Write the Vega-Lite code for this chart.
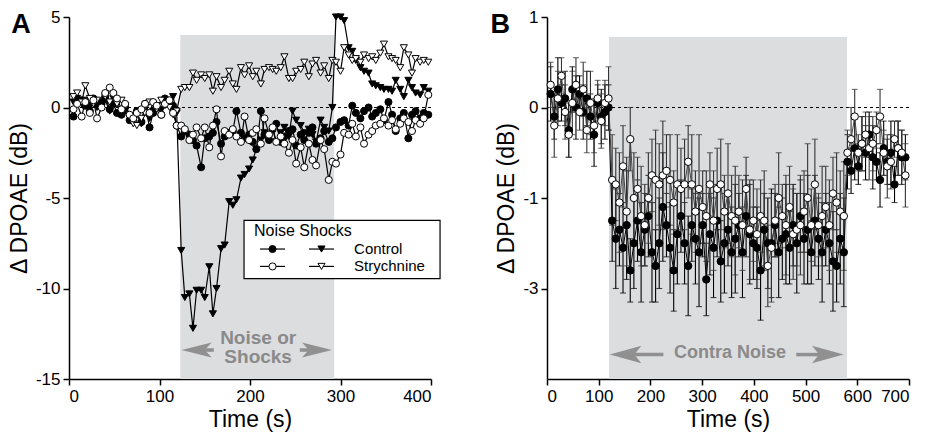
{
"$schema":"https://vega.github.io/schema/vega-lite/v6.json",
"background":"white",
"padding":{"left":8,"top":8,"right":0,"bottom":2},
"config":{"view":{"stroke":null},"font":"Liberation Sans",
"axis":{"domainColor":"#000","domainWidth":1.5,"tickColor":"#000","tickWidth":1.5,"tickSize":6,"labelFont":"Liberation Sans","labelFontSize":17,"labelColor":"#000","labelPadding":3,"titleFont":"Liberation Sans","titleFontSize":23,"titleFontWeight":"normal","titleColor":"#000","grid":false,"titlePadding":4}},
"datasets":{
"a":[
{"t":5,"g":"tc","v":0.3},{"t":9,"g":"tc","v":0.5},{"t":14,"g":"tc","v":0.2},{"t":18,"g":"tc","v":0.4},{"t":23,"g":"tc","v":0.1},{"t":27,"g":"tc","v":0.3},{"t":31,"g":"tc","v":0.0},{"t":36,"g":"tc","v":0.2},{"t":40,"g":"tc","v":0.4},{"t":45,"g":"tc","v":-0.2},
{"t":49,"g":"tc","v":0.5},{"t":53,"g":"tc","v":0.2},{"t":58,"g":"tc","v":-0.3},{"t":62,"g":"tc","v":-0.2},{"t":67,"g":"tc","v":-0.6},{"t":71,"g":"tc","v":-0.8},{"t":75,"g":"tc","v":-0.4},{"t":80,"g":"tc","v":-0.9},{"t":84,"g":"tc","v":-0.3},{"t":89,"g":"tc","v":-0.6},
{"t":93,"g":"tc","v":-0.2},{"t":97,"g":"tc","v":0.1},{"t":102,"g":"tc","v":-0.1},{"t":106,"g":"tc","v":0.4},{"t":111,"g":"tc","v":0.3},{"t":115,"g":"tc","v":0.6},{"t":119,"g":"tc","v":-0.3},{"t":124,"g":"tc","v":-7.9},{"t":128,"g":"tc","v":-10.5},{"t":133,"g":"tc","v":-10.3},
{"t":137,"g":"tc","v":-12.2},{"t":141,"g":"tc","v":-10.1},{"t":146,"g":"tc","v":-10.1},{"t":150,"g":"tc","v":-10.5},{"t":155,"g":"tc","v":-8.8},{"t":159,"g":"tc","v":-11.4},{"t":163,"g":"tc","v":-10.0},{"t":168,"g":"tc","v":-7.8},{"t":172,"g":"tc","v":-7.6},{"t":177,"g":"tc","v":-5.2},
{"t":181,"g":"tc","v":-5.4},{"t":185,"g":"tc","v":-5.1},{"t":190,"g":"tc","v":-3.9},{"t":194,"g":"tc","v":-3.7},{"t":199,"g":"tc","v":-3.4},{"t":203,"g":"tc","v":-2.9},{"t":207,"g":"tc","v":-2.3},{"t":212,"g":"tc","v":-1.8},{"t":216,"g":"tc","v":-1.4},{"t":221,"g":"tc","v":-1.7},
{"t":225,"g":"tc","v":-1.2},{"t":229,"g":"tc","v":-1.9},{"t":234,"g":"tc","v":-1.4},{"t":238,"g":"tc","v":-1.1},{"t":243,"g":"tc","v":-1.6},{"t":247,"g":"tc","v":-0.2},{"t":251,"g":"tc","v":-0.7},{"t":256,"g":"tc","v":-1.0},{"t":260,"g":"tc","v":-1.4},{"t":265,"g":"tc","v":-1.2},
{"t":269,"g":"tc","v":-1.5},{"t":273,"g":"tc","v":-1.9},{"t":278,"g":"tc","v":-0.7},{"t":282,"g":"tc","v":-1.1},{"t":287,"g":"tc","v":-1.3},{"t":291,"g":"tc","v":0.0},{"t":295,"g":"tc","v":5.0},{"t":300,"g":"tc","v":5.0},{"t":304,"g":"tc","v":4.8},{"t":309,"g":"tc","v":3.3},
{"t":313,"g":"tc","v":3.1},{"t":317,"g":"tc","v":2.6},{"t":322,"g":"tc","v":2.2},{"t":326,"g":"tc","v":2.0},{"t":331,"g":"tc","v":1.9},{"t":335,"g":"tc","v":1.3},{"t":339,"g":"tc","v":1.2},{"t":344,"g":"tc","v":1.1},{"t":348,"g":"tc","v":1.0},{"t":353,"g":"tc","v":1.0},
{"t":357,"g":"tc","v":0.9},{"t":361,"g":"tc","v":1.5},{"t":366,"g":"tc","v":1.0},{"t":370,"g":"tc","v":0.6},{"t":375,"g":"tc","v":1.5},{"t":379,"g":"tc","v":1.1},{"t":383,"g":"tc","v":0.8},{"t":388,"g":"tc","v":0.7},{"t":392,"g":"tc","v":1.1},{"t":397,"g":"tc","v":0.9},
{"t":5,"g":"cc","v":-0.5},{"t":9,"g":"cc","v":0.3},{"t":14,"g":"cc","v":0.4},{"t":18,"g":"cc","v":0.1},{"t":23,"g":"cc","v":-0.2},{"t":27,"g":"cc","v":0.5},{"t":31,"g":"cc","v":0.2},{"t":36,"g":"cc","v":0.3},{"t":40,"g":"cc","v":0.6},{"t":45,"g":"cc","v":-0.1},
{"t":49,"g":"cc","v":0.2},{"t":53,"g":"cc","v":-0.3},{"t":58,"g":"cc","v":-0.4},{"t":62,"g":"cc","v":0.1},{"t":67,"g":"cc","v":-0.7},{"t":71,"g":"cc","v":-0.5},{"t":75,"g":"cc","v":-0.2},{"t":80,"g":"cc","v":-0.8},{"t":84,"g":"cc","v":0.2},{"t":89,"g":"cc","v":-1.1},
{"t":93,"g":"cc","v":-0.3},{"t":97,"g":"cc","v":0.0},{"t":102,"g":"cc","v":-0.4},{"t":106,"g":"cc","v":0.5},{"t":111,"g":"cc","v":0.2},{"t":115,"g":"cc","v":0.1},{"t":119,"g":"cc","v":-1.0},{"t":124,"g":"cc","v":-1.6},{"t":128,"g":"cc","v":-1.3},{"t":133,"g":"cc","v":-1.5},
{"t":137,"g":"cc","v":-1.8},{"t":141,"g":"cc","v":-2.1},{"t":146,"g":"cc","v":-3.3},{"t":150,"g":"cc","v":-1.7},{"t":155,"g":"cc","v":-1.6},{"t":159,"g":"cc","v":-1.4},{"t":163,"g":"cc","v":-0.8},{"t":168,"g":"cc","v":-2.0},{"t":172,"g":"cc","v":-1.6},{"t":177,"g":"cc","v":-1.4},
{"t":181,"g":"cc","v":-1.3},{"t":185,"g":"cc","v":-0.2},{"t":190,"g":"cc","v":-1.4},{"t":194,"g":"cc","v":-1.7},{"t":199,"g":"cc","v":-1.5},{"t":203,"g":"cc","v":-1.9},{"t":207,"g":"cc","v":-2.3},{"t":212,"g":"cc","v":-0.2},{"t":216,"g":"cc","v":-1.5},{"t":221,"g":"cc","v":-1.8},
{"t":225,"g":"cc","v":-1.2},{"t":229,"g":"cc","v":-0.9},{"t":234,"g":"cc","v":-1.9},{"t":238,"g":"cc","v":-1.6},{"t":243,"g":"cc","v":-1.3},{"t":247,"g":"cc","v":-1.2},{"t":251,"g":"cc","v":-2.1},{"t":256,"g":"cc","v":-1.5},{"t":260,"g":"cc","v":-1.8},{"t":265,"g":"cc","v":-1.4},
{"t":269,"g":"cc","v":-1.1},{"t":273,"g":"cc","v":-2.0},{"t":278,"g":"cc","v":-1.7},{"t":282,"g":"cc","v":-1.3},{"t":287,"g":"cc","v":-1.9},{"t":291,"g":"cc","v":-1.7},{"t":295,"g":"cc","v":-1.1},{"t":300,"g":"cc","v":-0.8},{"t":304,"g":"cc","v":-0.7},{"t":309,"g":"cc","v":-1.0},
{"t":313,"g":"cc","v":0.1},{"t":317,"g":"cc","v":-0.3},{"t":322,"g":"cc","v":-0.6},{"t":326,"g":"cc","v":-0.2},{"t":331,"g":"cc","v":0.0},{"t":335,"g":"cc","v":-0.5},{"t":339,"g":"cc","v":-0.3},{"t":344,"g":"cc","v":-0.1},{"t":348,"g":"cc","v":-0.7},{"t":353,"g":"cc","v":0.3},
{"t":357,"g":"cc","v":-0.4},{"t":361,"g":"cc","v":-1.3},{"t":366,"g":"cc","v":-0.6},{"t":370,"g":"cc","v":-0.3},{"t":375,"g":"cc","v":-1.7},{"t":379,"g":"cc","v":-0.4},{"t":383,"g":"cc","v":-0.2},{"t":388,"g":"cc","v":-0.6},{"t":392,"g":"cc","v":-0.3},{"t":397,"g":"cc","v":-0.4},
{"t":5,"g":"ts","v":0.6},{"t":9,"g":"ts","v":0.8},{"t":14,"g":"ts","v":0.3},{"t":18,"g":"ts","v":1.2},{"t":23,"g":"ts","v":0.5},{"t":27,"g":"ts","v":0.2},{"t":31,"g":"ts","v":0.4},{"t":36,"g":"ts","v":0.0},{"t":40,"g":"ts","v":0.6},{"t":45,"g":"ts","v":0.3},
{"t":49,"g":"ts","v":0.7},{"t":53,"g":"ts","v":0.2},{"t":58,"g":"ts","v":0.4},{"t":62,"g":"ts","v":0.1},{"t":67,"g":"ts","v":-0.5},{"t":71,"g":"ts","v":-0.9},{"t":75,"g":"ts","v":-1.0},{"t":80,"g":"ts","v":-0.6},{"t":84,"g":"ts","v":-0.3},{"t":89,"g":"ts","v":0.3},
{"t":93,"g":"ts","v":0.2},{"t":97,"g":"ts","v":-0.1},{"t":102,"g":"ts","v":0.4},{"t":106,"g":"ts","v":0.1},{"t":111,"g":"ts","v":0.0},{"t":115,"g":"ts","v":-0.4},{"t":119,"g":"ts","v":-0.2},{"t":124,"g":"ts","v":1.0},{"t":128,"g":"ts","v":1.1},{"t":133,"g":"ts","v":1.1},
{"t":137,"g":"ts","v":1.9},{"t":141,"g":"ts","v":1.5},{"t":146,"g":"ts","v":1.8},{"t":150,"g":"ts","v":1.6},{"t":155,"g":"ts","v":1.8},{"t":159,"g":"ts","v":0.9},{"t":163,"g":"ts","v":1.7},{"t":168,"g":"ts","v":1.1},{"t":172,"g":"ts","v":1.5},{"t":177,"g":"ts","v":2.0},
{"t":181,"g":"ts","v":1.3},{"t":185,"g":"ts","v":1.0},{"t":190,"g":"ts","v":2.2},{"t":194,"g":"ts","v":1.8},{"t":199,"g":"ts","v":2.3},{"t":203,"g":"ts","v":1.7},{"t":207,"g":"ts","v":2.0},{"t":212,"g":"ts","v":1.3},{"t":216,"g":"ts","v":2.1},{"t":221,"g":"ts","v":2.2},
{"t":225,"g":"ts","v":2.1},{"t":229,"g":"ts","v":2.0},{"t":234,"g":"ts","v":2.2},{"t":238,"g":"ts","v":2.8},{"t":243,"g":"ts","v":1.6},{"t":247,"g":"ts","v":1.6},{"t":251,"g":"ts","v":2.0},{"t":256,"g":"ts","v":2.1},{"t":260,"g":"ts","v":2.5},{"t":265,"g":"ts","v":1.7},
{"t":269,"g":"ts","v":2.4},{"t":273,"g":"ts","v":2.6},{"t":278,"g":"ts","v":1.9},{"t":282,"g":"ts","v":2.3},{"t":287,"g":"ts","v":1.6},{"t":291,"g":"ts","v":2.6},{"t":295,"g":"ts","v":2.5},{"t":300,"g":"ts","v":2.0},{"t":304,"g":"ts","v":3.3},{"t":309,"g":"ts","v":2.9},
{"t":313,"g":"ts","v":2.6},{"t":317,"g":"ts","v":2.7},{"t":322,"g":"ts","v":2.5},{"t":326,"g":"ts","v":2.9},{"t":331,"g":"ts","v":2.7},{"t":335,"g":"ts","v":2.8},{"t":339,"g":"ts","v":2.6},{"t":344,"g":"ts","v":3.0},{"t":348,"g":"ts","v":3.5},{"t":353,"g":"ts","v":2.8},
{"t":357,"g":"ts","v":2.7},{"t":361,"g":"ts","v":2.6},{"t":366,"g":"ts","v":2.2},{"t":370,"g":"ts","v":3.3},{"t":375,"g":"ts","v":2.9},{"t":379,"g":"ts","v":1.9},{"t":383,"g":"ts","v":2.7},{"t":388,"g":"ts","v":2.5},{"t":392,"g":"ts","v":2.6},{"t":397,"g":"ts","v":2.5},
{"t":5,"g":"cs","v":-0.1},{"t":9,"g":"cs","v":0.2},{"t":14,"g":"cs","v":-0.5},{"t":18,"g":"cs","v":0.3},{"t":23,"g":"cs","v":-0.3},{"t":27,"g":"cs","v":0.4},{"t":31,"g":"cs","v":-0.6},{"t":36,"g":"cs","v":0.0},{"t":40,"g":"cs","v":0.8},{"t":45,"g":"cs","v":1.1},
{"t":49,"g":"cs","v":0.8},{"t":53,"g":"cs","v":0.5},{"t":58,"g":"cs","v":-0.1},{"t":62,"g":"cs","v":0.2},{"t":67,"g":"cs","v":-0.4},{"t":71,"g":"cs","v":-0.6},{"t":75,"g":"cs","v":-0.3},{"t":80,"g":"cs","v":-0.1},{"t":84,"g":"cs","v":0.2},{"t":89,"g":"cs","v":-0.3},
{"t":93,"g":"cs","v":0.3},{"t":97,"g":"cs","v":0.1},{"t":102,"g":"cs","v":-0.4},{"t":106,"g":"cs","v":0.2},{"t":111,"g":"cs","v":0.4},{"t":115,"g":"cs","v":-0.3},{"t":119,"g":"cs","v":-1.0},{"t":124,"g":"cs","v":-1.0},{"t":128,"g":"cs","v":-1.2},{"t":133,"g":"cs","v":-1.8},
{"t":137,"g":"cs","v":-1.5},{"t":141,"g":"cs","v":-1.1},{"t":146,"g":"cs","v":-1.7},{"t":150,"g":"cs","v":-1.1},{"t":155,"g":"cs","v":-2.2},{"t":159,"g":"cs","v":-1.0},{"t":163,"g":"cs","v":-0.1},{"t":168,"g":"cs","v":-2.7},{"t":172,"g":"cs","v":-1.3},{"t":177,"g":"cs","v":-1.5},
{"t":181,"g":"cs","v":-1.2},{"t":185,"g":"cs","v":-1.6},{"t":190,"g":"cs","v":-1.9},{"t":194,"g":"cs","v":-0.5},{"t":199,"g":"cs","v":-1.8},{"t":203,"g":"cs","v":-1.4},{"t":207,"g":"cs","v":-1.2},{"t":212,"g":"cs","v":-2.0},{"t":216,"g":"cs","v":-0.6},{"t":221,"g":"cs","v":-1.5},
{"t":225,"g":"cs","v":-1.1},{"t":229,"g":"cs","v":-1.9},{"t":234,"g":"cs","v":-1.6},{"t":238,"g":"cs","v":-2.0},{"t":243,"g":"cs","v":-2.5},{"t":247,"g":"cs","v":-1.8},{"t":251,"g":"cs","v":-3.1},{"t":256,"g":"cs","v":-2.2},{"t":260,"g":"cs","v":-3.3},{"t":265,"g":"cs","v":-2.0},
{"t":269,"g":"cs","v":-2.9},{"t":273,"g":"cs","v":-3.2},{"t":278,"g":"cs","v":-1.8},{"t":282,"g":"cs","v":-2.3},{"t":287,"g":"cs","v":-4.0},{"t":291,"g":"cs","v":-3.0},{"t":295,"g":"cs","v":-3.1},{"t":300,"g":"cs","v":-2.6},{"t":304,"g":"cs","v":-1.4},{"t":309,"g":"cs","v":-1.5},
{"t":313,"g":"cs","v":-0.9},{"t":317,"g":"cs","v":-1.6},{"t":322,"g":"cs","v":-1.1},{"t":326,"g":"cs","v":-2.0},{"t":331,"g":"cs","v":-1.5},{"t":335,"g":"cs","v":-1.3},{"t":339,"g":"cs","v":-1.0},{"t":344,"g":"cs","v":-0.9},{"t":348,"g":"cs","v":-0.6},{"t":353,"g":"cs","v":-1.0},
{"t":357,"g":"cs","v":-0.7},{"t":361,"g":"cs","v":-1.2},{"t":366,"g":"cs","v":-0.9},{"t":370,"g":"cs","v":-0.6},{"t":375,"g":"cs","v":-0.8},{"t":379,"g":"cs","v":-1.3},{"t":383,"g":"cs","v":-0.7},{"t":388,"g":"cs","v":-0.9},{"t":392,"g":"cs","v":-0.6},{"t":397,"g":"cs","v":0.7}
],
"b":[
{"t":7,"g":"c","v":0.15,"e":0.3},{"t":14,"g":"c","v":-0.1,"e":0.25},{"t":21,"g":"c","v":0.2,"e":0.35},{"t":28,"g":"c","v":0.05,"e":0.2},{"t":35,"g":"c","v":0.1,"e":0.3},{"t":42,"g":"c","v":-0.25,"e":0.3},{"t":49,"g":"c","v":0.2,"e":0.25},{"t":56,"g":"c","v":0.0,"e":0.35},{"t":63,"g":"c","v":0.15,"e":0.2},{"t":70,"g":"c","v":-0.05,"e":0.3},{"t":77,"g":"c","v":0.1,"e":0.3},{"t":84,"g":"c","v":-0.1,"e":0.25},{"t":91,"g":"c","v":-0.3,"e":0.35},{"t":98,"g":"c","v":0.05,"e":0.2},{"t":105,"g":"c","v":-0.1,"e":0.3},{"t":112,"g":"c","v":-0.05,"e":0.3},{"t":119,"g":"c","v":0.0,"e":0.25},
{"t":126,"g":"c","v":-1.25,"e":0.45},{"t":133,"g":"c","v":-1.45,"e":0.55},{"t":140,"g":"c","v":-1.35,"e":0.4},{"t":147,"g":"c","v":-1.55,"e":0.5},{"t":154,"g":"c","v":-1.3,"e":0.6},{"t":161,"g":"c","v":-1.8,"e":0.35},{"t":168,"g":"c","v":-1.5,"e":0.5},{"t":175,"g":"c","v":-1.25,"e":0.45},{"t":182,"g":"c","v":-1.6,"e":0.55},{"t":189,"g":"c","v":-1.35,"e":0.4},
{"t":196,"g":"c","v":-1.2,"e":0.45},{"t":203,"g":"c","v":-1.6,"e":0.55},{"t":210,"g":"c","v":-1.75,"e":0.4},{"t":217,"g":"c","v":-1.5,"e":0.5},{"t":224,"g":"c","v":-1.1,"e":0.6},{"t":231,"g":"c","v":-1.3,"e":0.35},{"t":238,"g":"c","v":-1.55,"e":0.5},{"t":245,"g":"c","v":-1.8,"e":0.45},{"t":252,"g":"c","v":-1.4,"e":0.55},{"t":259,"g":"c","v":-1.2,"e":0.4},
{"t":266,"g":"c","v":-1.5,"e":0.45},{"t":273,"g":"c","v":-1.75,"e":0.55},{"t":280,"g":"c","v":-1.3,"e":0.4},{"t":287,"g":"c","v":-1.45,"e":0.5},{"t":294,"g":"c","v":-1.6,"e":0.6},{"t":301,"g":"c","v":-1.3,"e":0.35},{"t":308,"g":"c","v":-1.9,"e":0.4},{"t":315,"g":"c","v":-1.4,"e":0.45},{"t":322,"g":"c","v":-1.55,"e":0.55},{"t":329,"g":"c","v":-1.25,"e":0.4},
{"t":336,"g":"c","v":-1.7,"e":0.45},{"t":343,"g":"c","v":-1.5,"e":0.55},{"t":350,"g":"c","v":-1.35,"e":0.4},{"t":357,"g":"c","v":-1.6,"e":0.5},{"t":364,"g":"c","v":-1.45,"e":0.6},{"t":371,"g":"c","v":-1.3,"e":0.35},{"t":378,"g":"c","v":-1.6,"e":0.5},{"t":385,"g":"c","v":-1.2,"e":0.45},{"t":392,"g":"c","v":-1.4,"e":0.55},{"t":399,"g":"c","v":-1.5,"e":0.4},
{"t":406,"g":"c","v":-1.55,"e":0.45},{"t":413,"g":"c","v":-1.8,"e":0.55},{"t":420,"g":"c","v":-1.35,"e":0.4},{"t":427,"g":"c","v":-1.5,"e":0.5},{"t":434,"g":"c","v":-1.5,"e":0.6},{"t":441,"g":"c","v":-1.3,"e":0.35},{"t":448,"g":"c","v":-1.6,"e":0.5},{"t":455,"g":"c","v":-1.45,"e":0.45},{"t":462,"g":"c","v":-1.4,"e":0.55},{"t":469,"g":"c","v":-1.55,"e":0.4},
{"t":476,"g":"c","v":-1.3,"e":0.45},{"t":483,"g":"c","v":-1.5,"e":0.55},{"t":490,"g":"c","v":-1.2,"e":0.4},{"t":497,"g":"c","v":-1.45,"e":0.5},{"t":504,"g":"c","v":-1.35,"e":0.6},{"t":511,"g":"c","v":-1.6,"e":0.35},{"t":518,"g":"c","v":-1.25,"e":0.5},{"t":525,"g":"c","v":-1.45,"e":0.45},{"t":532,"g":"c","v":-1.6,"e":0.55},{"t":539,"g":"c","v":-1.35,"e":0.4},
{"t":546,"g":"c","v":-1.5,"e":0.45},{"t":553,"g":"c","v":-1.7,"e":0.55},{"t":560,"g":"c","v":-1.75,"e":0.4},{"t":567,"g":"c","v":-1.45,"e":0.5},{"t":574,"g":"c","v":-1.6,"e":0.6},
{"t":581,"g":"c","v":-0.6,"e":0.3},{"t":588,"g":"c","v":-0.7,"e":0.25},{"t":595,"g":"c","v":-0.45,"e":0.35},{"t":602,"g":"c","v":-0.65,"e":0.2},{"t":609,"g":"c","v":-0.4,"e":0.3},{"t":616,"g":"c","v":-0.5,"e":0.3},{"t":623,"g":"c","v":-0.3,"e":0.25},{"t":630,"g":"c","v":-0.55,"e":0.35},{"t":637,"g":"c","v":-0.6,"e":0.2},{"t":644,"g":"c","v":-0.8,"e":0.3},{"t":651,"g":"c","v":-0.45,"e":0.3},{"t":658,"g":"c","v":-0.6,"e":0.25},{"t":665,"g":"c","v":-0.5,"e":0.35},{"t":672,"g":"c","v":-0.85,"e":0.2},{"t":679,"g":"c","v":-0.45,"e":0.3},{"t":686,"g":"c","v":-0.55,"e":0.3},{"t":693,"g":"c","v":-0.55,"e":0.25},
{"t":7,"g":"s","v":0.25,"e":0.25},{"t":14,"g":"s","v":-0.2,"e":0.35},{"t":21,"g":"s","v":0.1,"e":0.3},{"t":28,"g":"s","v":0.35,"e":0.2},{"t":35,"g":"s","v":-0.05,"e":0.3},{"t":42,"g":"s","v":-0.3,"e":0.25},{"t":49,"g":"s","v":0.05,"e":0.35},{"t":56,"g":"s","v":0.25,"e":0.3},{"t":63,"g":"s","v":-0.05,"e":0.2},{"t":70,"g":"s","v":0.2,"e":0.3},{"t":77,"g":"s","v":-0.25,"e":0.25},{"t":84,"g":"s","v":0.05,"e":0.35},{"t":91,"g":"s","v":-0.2,"e":0.3},{"t":98,"g":"s","v":0.1,"e":0.2},{"t":105,"g":"s","v":-0.15,"e":0.3},{"t":112,"g":"s","v":0.05,"e":0.25},{"t":119,"g":"s","v":0.1,"e":0.35},
{"t":126,"g":"s","v":-0.8,"e":0.5},{"t":133,"g":"s","v":-0.85,"e":0.4},{"t":140,"g":"s","v":-1.05,"e":0.55},{"t":147,"g":"s","v":-0.65,"e":0.45},{"t":154,"g":"s","v":-1.15,"e":0.6},{"t":161,"g":"s","v":-0.35,"e":0.35},{"t":168,"g":"s","v":-1.0,"e":0.5},{"t":175,"g":"s","v":-0.9,"e":0.35},{"t":182,"g":"s","v":-1.2,"e":0.55},{"t":189,"g":"s","v":-1.3,"e":0.45},
{"t":196,"g":"s","v":-1.0,"e":0.5},{"t":203,"g":"s","v":-0.75,"e":0.4},{"t":210,"g":"s","v":-0.8,"e":0.55},{"t":217,"g":"s","v":-0.85,"e":0.45},{"t":224,"g":"s","v":-0.75,"e":0.6},{"t":231,"g":"s","v":-0.7,"e":0.4},{"t":238,"g":"s","v":-0.8,"e":0.5},{"t":245,"g":"s","v":-1.05,"e":0.35},{"t":252,"g":"s","v":-0.85,"e":0.55},{"t":259,"g":"s","v":-0.9,"e":0.45},
{"t":266,"g":"s","v":-0.85,"e":0.5},{"t":273,"g":"s","v":-0.6,"e":0.4},{"t":280,"g":"s","v":-0.85,"e":0.55},{"t":287,"g":"s","v":-1.15,"e":0.45},{"t":294,"g":"s","v":-0.9,"e":0.6},{"t":301,"g":"s","v":-1.1,"e":0.4},{"t":308,"g":"s","v":-1.2,"e":0.5},{"t":315,"g":"s","v":-0.85,"e":0.35},{"t":322,"g":"s","v":-1.25,"e":0.55},{"t":329,"g":"s","v":-0.9,"e":0.45},
{"t":336,"g":"s","v":-0.85,"e":0.5},{"t":343,"g":"s","v":-1.15,"e":0.4},{"t":350,"g":"s","v":-0.95,"e":0.55},{"t":357,"g":"s","v":-1.2,"e":0.45},{"t":364,"g":"s","v":-1.25,"e":0.6},{"t":371,"g":"s","v":-1.15,"e":0.4},{"t":378,"g":"s","v":-1.3,"e":0.5},{"t":385,"g":"s","v":-0.9,"e":0.35},{"t":392,"g":"s","v":-1.35,"e":0.55},{"t":399,"g":"s","v":-1.25,"e":0.45},
{"t":406,"g":"s","v":-1.4,"e":0.5},{"t":413,"g":"s","v":-1.2,"e":0.4},{"t":420,"g":"s","v":-1.25,"e":0.55},{"t":427,"g":"s","v":-1.75,"e":0.45},{"t":434,"g":"s","v":-1.55,"e":0.6},{"t":441,"g":"s","v":-1.25,"e":0.4},{"t":448,"g":"s","v":-1.0,"e":0.5},{"t":455,"g":"s","v":-1.2,"e":0.35},{"t":462,"g":"s","v":-1.3,"e":0.55},{"t":469,"g":"s","v":-1.1,"e":0.45},
{"t":476,"g":"s","v":-1.4,"e":0.5},{"t":483,"g":"s","v":-1.35,"e":0.4},{"t":490,"g":"s","v":-1.3,"e":0.55},{"t":497,"g":"s","v":-1.15,"e":0.45},{"t":504,"g":"s","v":-1.0,"e":0.6},{"t":511,"g":"s","v":-1.3,"e":0.4},{"t":518,"g":"s","v":-0.85,"e":0.5},{"t":525,"g":"s","v":-1.3,"e":0.35},{"t":532,"g":"s","v":-1.2,"e":0.55},{"t":539,"g":"s","v":-1.1,"e":0.45},
{"t":546,"g":"s","v":-1.3,"e":0.5},{"t":553,"g":"s","v":-0.95,"e":0.4},{"t":560,"g":"s","v":-1.05,"e":0.55},{"t":567,"g":"s","v":-1.15,"e":0.45},{"t":574,"g":"s","v":-1.2,"e":0.6},
{"t":581,"g":"s","v":-0.5,"e":0.25},{"t":588,"g":"s","v":-0.35,"e":0.35},{"t":595,"g":"s","v":-0.1,"e":0.3},{"t":602,"g":"s","v":-0.5,"e":0.2},{"t":609,"g":"s","v":-0.4,"e":0.3},{"t":616,"g":"s","v":-0.3,"e":0.25},{"t":623,"g":"s","v":-0.45,"e":0.35},{"t":630,"g":"s","v":-0.4,"e":0.3},{"t":637,"g":"s","v":-0.25,"e":0.2},{"t":644,"g":"s","v":-0.1,"e":0.3},{"t":651,"g":"s","v":-0.5,"e":0.25},{"t":658,"g":"s","v":-0.65,"e":0.35},{"t":665,"g":"s","v":-0.6,"e":0.3},{"t":672,"g":"s","v":-0.35,"e":0.2},{"t":679,"g":"s","v":-0.45,"e":0.3},{"t":686,"g":"s","v":-0.5,"e":0.25},{"t":693,"g":"s","v":-0.75,"e":0.35}
]},
"hconcat":[
{"width":362,"height":362,"data":{"name":"a"},
"layer":[
{"data":{"values":[{}]},"mark":{"type":"rect","color":"#dcdddf"},
 "encoding":{"x":{"datum":123,"type":"quantitative","scale":{"domain":[0,400],"nice":false,"zero":false},"axis":{"title":"Time (s)","values":[0,100,200,300,400]}},"x2":{"datum":293},
 "y":{"datum":4,"type":"quantitative","scale":{"domain":[-15,5],"nice":false,"zero":false},"axis":{"title":"Δ DPOAE (dB)","values":[-15,-10,-5,0,5],"labelExpr":"datum.value < 0 ? '-' + abs(datum.value) : '' + datum.value"}},"y2":{"datum":-15}}},
{"data":{"values":[{}]},"mark":{"type":"rule","color":"#000","strokeWidth":1,"strokeDash":[3,3]},"encoding":{"y":{"datum":0,"type":"quantitative"}}},
{"mark":{"type":"line","color":"#000","strokeWidth":1.2},"encoding":{"x":{"field":"t","type":"quantitative"},"y":{"field":"v","type":"quantitative"},"detail":{"field":"g"},"order":{"field":"t"}}},
{"mark":{"type":"point","filled":true,"stroke":"#000","strokeWidth":1,"size":50,"opacity":1},
 "encoding":{"x":{"field":"t","type":"quantitative"},"y":{"field":"v","type":"quantitative"},
 "shape":{"field":"g","type":"nominal","legend":null,"scale":{"domain":["cc","tc","cs","ts"],"range":["circle","triangle-down","circle","triangle-down"]}},
 "fill":{"field":"g","type":"nominal","legend":null,"scale":{"domain":["cc","tc","cs","ts"],"range":["#000","#000","#fff","#fff"]}}}},
{"data":{"values":[{}]},"mark":{"type":"rect","fill":"#fff","stroke":"#000","strokeWidth":1.2},"encoding":{"x":{"datum":193.4,"type":"quantitative"},"x2":{"datum":410},"y":{"datum":-6.24,"type":"quantitative"},"y2":{"datum":-9.45}}},
{"data":{"values":[{}]},"mark":{"type":"text","text":"Noise Shocks","font":"Liberation Sans","fontSize":16,"color":"#000","align":"left","baseline":"middle"},"encoding":{"x":{"datum":204.4,"type":"quantitative"},"y":{"datum":-6.85,"type":"quantitative"}}},
{"data":{"values":[{}]},"mark":{"type":"rule","color":"#000","strokeWidth":1.2},"encoding":{"x":{"datum":211,"type":"quantitative"},"x2":{"datum":238.7},"y":{"datum":-7.82,"type":"quantitative"}}},
{"data":{"values":[{}]},"mark":{"type":"rule","color":"#000","strokeWidth":1.2},"encoding":{"x":{"datum":211,"type":"quantitative"},"x2":{"datum":238.7},"y":{"datum":-8.78,"type":"quantitative"}}},
{"data":{"values":[{}]},"mark":{"type":"rule","color":"#000","strokeWidth":1.2},"encoding":{"x":{"datum":265.2,"type":"quantitative"},"x2":{"datum":292.8},"y":{"datum":-7.82,"type":"quantitative"}}},
{"data":{"values":[{}]},"mark":{"type":"rule","color":"#000","strokeWidth":1.2},"encoding":{"x":{"datum":265.2,"type":"quantitative"},"x2":{"datum":292.8},"y":{"datum":-8.78,"type":"quantitative"}}},
{"data":{"values":[{}]},"mark":{"type":"point","shape":"circle","filled":true,"fill":"#000","stroke":"#000","strokeWidth":1,"size":50,"opacity":1},"encoding":{"x":{"datum":224.9,"type":"quantitative"},"y":{"datum":-7.82,"type":"quantitative"}}},
{"data":{"values":[{}]},"mark":{"type":"point","shape":"circle","filled":true,"fill":"#fff","stroke":"#000","strokeWidth":1,"size":50,"opacity":1},"encoding":{"x":{"datum":224.9,"type":"quantitative"},"y":{"datum":-8.78,"type":"quantitative"}}},
{"data":{"values":[{}]},"mark":{"type":"point","shape":"triangle-down","filled":true,"fill":"#000","stroke":"#000","strokeWidth":1,"size":50,"opacity":1},"encoding":{"x":{"datum":279,"type":"quantitative"},"y":{"datum":-7.82,"type":"quantitative"}}},
{"data":{"values":[{}]},"mark":{"type":"point","shape":"triangle-down","filled":true,"fill":"#fff","stroke":"#000","strokeWidth":1,"size":50,"opacity":1},"encoding":{"x":{"datum":279,"type":"quantitative"},"y":{"datum":-8.78,"type":"quantitative"}}},
{"data":{"values":[{}]},"mark":{"type":"text","text":"Control","font":"Liberation Sans","fontSize":15,"color":"#000","align":"left","baseline":"middle"},"encoding":{"x":{"datum":315,"type":"quantitative"},"y":{"datum":-7.82,"type":"quantitative"}}},
{"data":{"values":[{}]},"mark":{"type":"text","text":"Strychnine","font":"Liberation Sans","fontSize":15,"color":"#000","align":"left","baseline":"middle"},"encoding":{"x":{"datum":315,"type":"quantitative"},"y":{"datum":-8.78,"type":"quantitative"}}},
{"data":{"values":[{}]},"mark":{"type":"text","text":["Noise or","Shocks"],"font":"Liberation Sans","fontSize":19,"fontWeight":"bold","color":"#8a8a8a","align":"center","baseline":"middle","lineHeight":19},"encoding":{"x":{"datum":209,"type":"quantitative"},"y":{"datum":-12.76,"type":"quantitative"}}},
{"data":{"values":[{}]},"mark":{"type":"rule","color":"#909090","strokeWidth":3.5},"encoding":{"x":{"datum":141,"type":"quantitative"},"x2":{"datum":160},"y":{"datum":-13.4,"type":"quantitative"}}},
{"data":{"values":[{}]},"mark":{"type":"rule","color":"#909090","strokeWidth":3.5},"encoding":{"x":{"datum":255,"type":"quantitative"},"x2":{"datum":274},"y":{"datum":-13.4,"type":"quantitative"}}},
{"data":{"values":[{}]},"mark":{"type":"point","filled":true,"color":"#909090","opacity":1,"size":900,"shape":"M-1,0L1,-0.5L0.55,0L1,0.5Z"},"encoding":{"x":{"datum":141,"type":"quantitative"},"y":{"datum":-13.4,"type":"quantitative"}}},
{"data":{"values":[{}]},"mark":{"type":"point","filled":true,"color":"#909090","opacity":1,"size":900,"shape":"M1,0L-1,-0.5L-0.55,0L-1,0.5Z"},"encoding":{"x":{"datum":274,"type":"quantitative"},"y":{"datum":-13.4,"type":"quantitative"}}},
{"data":{"values":[{}]},"mark":{"type":"text","text":"A","font":"Liberation Sans","fontSize":27,"fontWeight":"bold","color":"#000","align":"center","baseline":"middle"},"encoding":{"x":{"datum":-53,"type":"quantitative"},"y":{"datum":4.56,"type":"quantitative"}}}
]},
{"width":362,"height":362,"data":{"name":"b"},
"layer":[
{"data":{"values":[{}]},"mark":{"type":"rect","color":"#dcdddf"},
 "encoding":{"x":{"datum":120,"type":"quantitative","scale":{"domain":[0,700],"nice":false,"zero":false},"axis":{"title":"Time (s)","values":[0,100,200,300,400,500,600,700]}},"x2":{"datum":580},
 "y":{"datum":0.78,"type":"quantitative","scale":{"domain":[-3,1],"nice":false,"zero":false},"axis":{"title":"Δ DPOAE (dB)","values":[1,0,-1,-2],"labelExpr":"datum.value == -2 ? '-3' : datum.value < 0 ? '-' + abs(datum.value) : '' + datum.value"}},"y2":{"datum":-3}}},
{"data":{"values":[{}]},"mark":{"type":"rule","color":"#000","strokeWidth":1,"strokeDash":[3,3]},"encoding":{"y":{"datum":0,"type":"quantitative"}}},
{"transform":[{"filter":"datum.g == 'c'"}],"mark":{"type":"errorbar","color":"#000","thickness":1.1,"ticks":{"size":6}},"encoding":{"x":{"field":"t","type":"quantitative"},"y":{"field":"v","type":"quantitative","title":"Δ DPOAE (dB)"},"yError":{"field":"e"}}},
{"transform":[{"filter":"datum.g == 's'"}],"mark":{"type":"errorbar","color":"#333","thickness":1.1,"ticks":{"size":6}},"encoding":{"x":{"field":"t","type":"quantitative"},"y":{"field":"v","type":"quantitative","title":"Δ DPOAE (dB)"},"yError":{"field":"e"}}},
{"transform":[{"filter":"datum.g == 'c'"}],"mark":{"type":"line","color":"#000","strokeWidth":1},"encoding":{"x":{"field":"t","type":"quantitative"},"y":{"field":"v","type":"quantitative"}}},
{"transform":[{"filter":"datum.g == 's'"}],"mark":{"type":"line","color":"#444","strokeWidth":1},"encoding":{"x":{"field":"t","type":"quantitative"},"y":{"field":"v","type":"quantitative"}}},
{"transform":[{"filter":"datum.g == 'c'"}],"mark":{"type":"point","filled":true,"fill":"#000","stroke":"#000","strokeWidth":1,"size":55,"opacity":1},"encoding":{"x":{"field":"t","type":"quantitative"},"y":{"field":"v","type":"quantitative"}}},
{"transform":[{"filter":"datum.g == 's'"}],"mark":{"type":"point","filled":true,"fill":"#fff","stroke":"#000","strokeWidth":1,"size":55,"opacity":1},"encoding":{"x":{"field":"t","type":"quantitative"},"y":{"field":"v","type":"quantitative"}}},
{"data":{"values":[{}]},"mark":{"type":"text","text":"Contra Noise","font":"Liberation Sans","fontSize":18,"fontWeight":"bold","color":"#8a8a8a","align":"center","baseline":"middle"},"encoding":{"x":{"datum":354,"type":"quantitative"},"y":{"datum":-2.71,"type":"quantitative"}}},
{"data":{"values":[{}]},"mark":{"type":"rule","color":"#909090","strokeWidth":3.5},"encoding":{"x":{"datum":152,"type":"quantitative"},"x2":{"datum":225},"y":{"datum":-2.73,"type":"quantitative"}}},
{"data":{"values":[{}]},"mark":{"type":"rule","color":"#909090","strokeWidth":3.5},"encoding":{"x":{"datum":482,"type":"quantitative"},"x2":{"datum":543},"y":{"datum":-2.73,"type":"quantitative"}}},
{"data":{"values":[{}]},"mark":{"type":"point","filled":true,"color":"#909090","opacity":1,"size":1000,"shape":"M-1,0L1,-0.55L0.55,0L1,0.55Z"},"encoding":{"x":{"datum":152,"type":"quantitative"},"y":{"datum":-2.73,"type":"quantitative"}}},
{"data":{"values":[{}]},"mark":{"type":"point","filled":true,"color":"#909090","opacity":1,"size":1000,"shape":"M1,0L-1,-0.55L-0.55,0L-1,0.55Z"},"encoding":{"x":{"datum":543,"type":"quantitative"},"y":{"datum":-2.73,"type":"quantitative"}}},
{"data":{"values":[{}]},"mark":{"type":"text","text":"B","font":"Liberation Sans","fontSize":27,"fontWeight":"bold","color":"#000","align":"center","baseline":"middle"},"encoding":{"x":{"datum":-90.6,"type":"quantitative"},"y":{"datum":0.908,"type":"quantitative"}}}
]}
],
"spacing":116,
"bounds":"flush",
"resolve":{"scale":{"x":"independent","y":"independent"}}
}
